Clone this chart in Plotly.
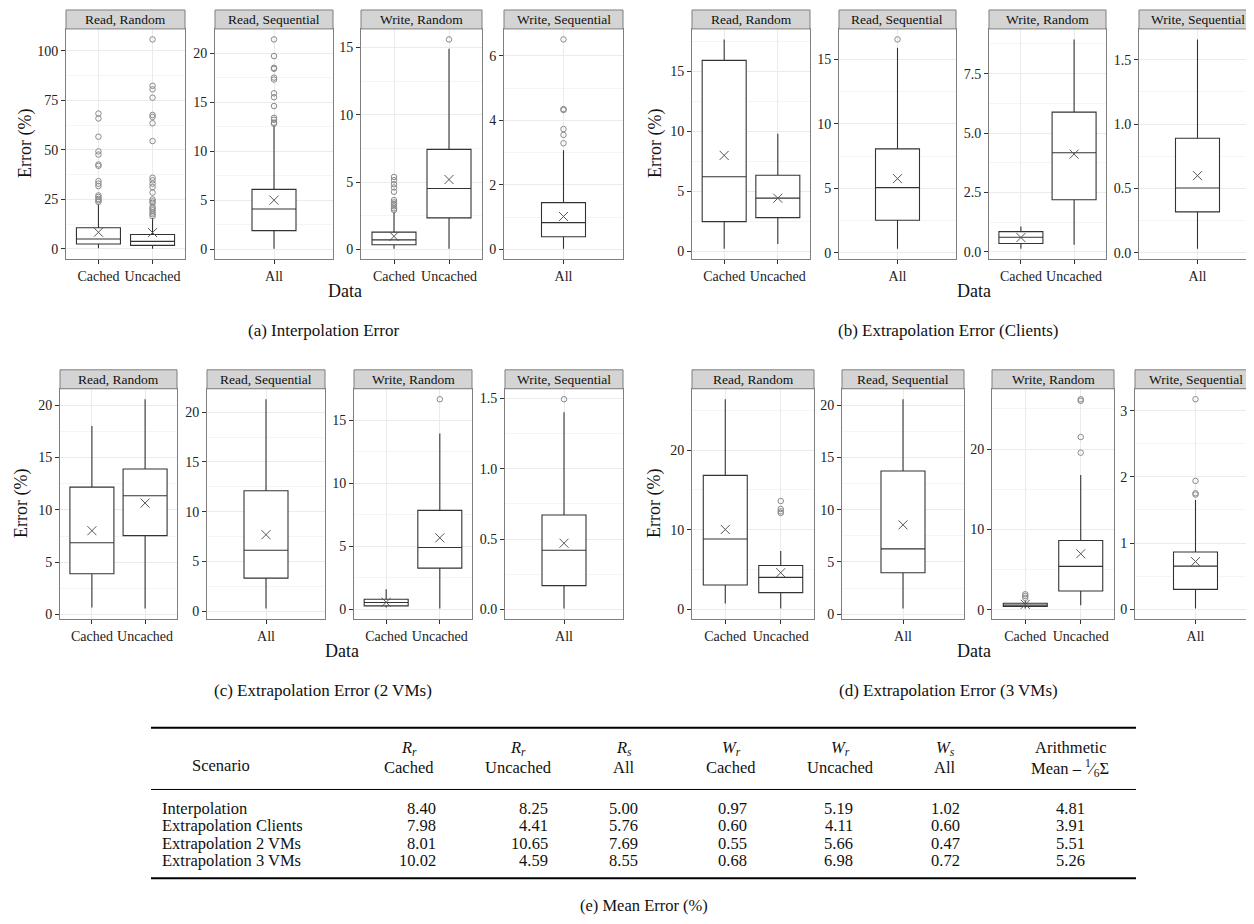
import plotly.graph_objects as go

W, H = 1254, 924
FONT = "Liberation Serif"

# ---------------- data ----------------
FACETS = ["Read, Random", "Read, Sequential", "Write, Random", "Write, Sequential"]
FACET_CATS = [["Cached", "Uncached"], ["All"], ["Cached", "Uncached"], ["All"]]

SCENARIOS = ["Interpolation", "Extrapolation Clients", "Extrapolation 2 VMs", "Extrapolation 3 VMs"]
RR_CACHED = [8.40, 7.98, 8.01, 10.02]
RR_UNCACHED = [8.25, 4.41, 10.65, 4.59]
RS_ALL = [5.00, 5.76, 7.69, 8.55]
WR_CACHED = [0.97, 0.60, 0.55, 0.68]
WR_UNCACHED = [5.19, 4.11, 5.66, 6.98]
WS_ALL = [1.02, 0.60, 0.47, 0.72]
ARITH_MEAN = [4.81, 3.91, 5.51, 5.26]

# (lower whisker, q1, median, q3, upper whisker) per box, facet order
INTERP_STATS = [
    [(0.3, 2.5, 5.0, 10.7, 22.5), (0.1, 1.8, 3.8, 7.3, 15.6)],
    [(0.05, 1.9, 4.1, 6.1, 12.6)],
    [(0.05, 0.34, 0.71, 1.28, 2.8), (0.05, 2.34, 4.52, 7.43, 14.9)],
    [(0.02, 0.39, 0.83, 1.45, 3.07)],
]
INTERP_OUT = [
    [[68.3, 65.8, 56.6, 49.2, 47.6, 42.6, 41.9, 34.2, 32.9, 31.7, 27.0, 26.2, 25.2, 24.5, 23.7],
     [105.7, 82.3, 80.5, 76.3, 67.6, 66.6, 63.4, 54.4, 35.9, 34.6, 32.9, 31.2, 28.4, 25.0,
      24.0, 23.2, 21.2, 20.4, 19.5, 18.4, 17.5, 16.5]],
    [[21.4, 19.7, 18.5, 18.4, 17.5, 17.3, 15.9, 15.5, 14.6, 13.4, 13.2, 12.9, 12.8]],
    [[5.38, 5.14, 4.84, 4.6, 4.28, 3.66, 3.49, 3.37, 3.2, 3.05, 2.93], [15.6]],
    [[6.51, 4.35, 4.32, 3.73, 3.55, 3.29]],
]
CLIENTS_STATS = [
    [(0.2, 2.46, 6.2, 15.9, 17.65), (0.6, 2.79, 4.42, 6.33, 9.78)],
    [(0.33, 2.54, 5.06, 8.07, 15.9)],
    [(0.13, 0.35, 0.61, 0.85, 1.07), (0.3, 2.19, 4.17, 5.88, 8.94)],
    [(0.033, 0.319, 0.504, 0.89, 1.657)],
]
CLIENTS_OUT = [[[], []], [[16.55]], [[], []], [[]]]
VM2_STATS = [
    [(0.67, 3.9, 6.85, 12.17, 18.0), (0.57, 7.54, 11.35, 13.9, 20.57)],
    [(0.27, 3.33, 6.13, 12.1, 21.3)],
    [(0.13, 0.26, 0.53, 0.79, 1.58), (0.05, 3.26, 4.89, 7.84, 13.95)],
    [(0.005, 0.168, 0.42, 0.671, 1.403)],
]
VM2_OUT = [[[], []], [[]], [[], [16.66]], [[1.495]]]
VM3_STATS = [
    [(0.71, 3.04, 8.83, 16.83, 26.4), (0.08, 2.08, 4.0, 5.5, 7.3)],
    [(0.54, 3.97, 6.25, 13.7, 20.57)],
    [(0.16, 0.41, 0.58, 0.82, 1.1), (0.58, 2.35, 5.4, 8.62, 16.78)],
    [(0.01, 0.30, 0.651, 0.866, 1.65)],
]
VM3_OUT = [[[], [13.6, 12.6, 12.3, 12.1]], [[]],
           [[1.94, 1.73, 1.48], [26.2, 26.0, 21.5, 19.55]],
           [[3.175, 1.94, 1.753, 1.733]]]

INTERP_DTICK = [25, 5, 5, 2]
CLIENTS_DTICK = [5, 5, 2.5, 0.5]
VM2_DTICK = [5, 5, 5, 0.5]
VM3_DTICK = [10, 5, 10, 1]

CAPTIONS = ["(a) Interpolation Error", "(b) Extrapolation Error (Clients)",
            "(c) Extrapolation Error (2 VMs)", "(d) Extrapolation Error (3 VMs)"]

# ---------------- layout geometry (pixels) ----------------
GROUPS = [
    dict(stats=INTERP_STATS, out=INTERP_OUT, dtick=INTERP_DTICK,
         panels=[(58, 177), (207, 325), (353, 474), (496, 615)], top=21, bottom=252, ylab=17, capx=315),
    dict(stats=CLIENTS_STATS, out=CLIENTS_OUT, dtick=CLIENTS_DTICK,
         panels=[(684, 802), (831, 948), (981, 1098), (1131, 1248)], top=21, bottom=252, ylab=647, capx=940),
    dict(stats=VM2_STATS, out=VM2_OUT, dtick=VM2_DTICK,
         panels=[(52, 169), (199, 317), (346, 464), (497, 615)], top=382, bottom=613, ylab=14, capx=315),
    dict(stats=VM3_STATS, out=VM3_OUT, dtick=VM3_DTICK,
         panels=[(684, 806), (834, 956), (984, 1106), (1127, 1248)], top=382, bottom=613, ylab=647, capx=940),
]
STRIP_H = 19


def px(x):
    return x / W


def py(y):
    return 1 - y / H


fig = go.Figure()
layout = dict(width=W, height=H, margin=dict(l=0, r=0, t=0, b=0),
              paper_bgcolor="white", plot_bgcolor="white", showlegend=False,
              font=dict(family=FONT, color="#222"))
shapes, annots = [], []

k = 0
for gi, g in enumerate(GROUPS):
    means = [[RR_CACHED[gi], RR_UNCACHED[gi]], [RS_ALL[gi]], [WR_CACHED[gi], WR_UNCACHED[gi]], [WS_ALL[gi]]]
    for fi in range(4):
        k += 1
        xa = "x" if k == 1 else f"x{k}"
        ya = "y" if k == 1 else f"y{k}"
        cats = FACET_CATS[fi]
        n = len(cats)
        x0, x1 = g["panels"][fi]
        span = n + 0.2
        bw = 44 * span / (x1 - x0)
        stats = g["stats"][fi]
        outs = g["out"][fi]
        for ci in range(n):
            lo, q1, med, q3, hi = stats[ci]
            fig.add_trace(go.Box(x=[ci + 1], lowerfence=[lo], q1=[q1], median=[med], q3=[q3],
                                 upperfence=[hi], width=bw, fillcolor="white",
                                 line=dict(color="#333333", width=1.1), boxpoints=False,
                                 whiskerwidth=0, xaxis=xa, yaxis=ya, hoverinfo="skip"))
            if outs[ci]:
                fig.add_trace(go.Scatter(x=[ci + 1] * len(outs[ci]), y=outs[ci], mode="markers",
                                         marker=dict(symbol="circle-open", size=5.5, color="#8a8a8a",
                                                     line=dict(width=1)),
                                         xaxis=xa, yaxis=ya, hoverinfo="skip"))
            fig.add_trace(go.Scatter(x=[ci + 1], y=[means[fi][ci]], mode="markers",
                                     marker=dict(symbol="x-thin-open", size=9, color="#555",
                                                 line=dict(width=1, color="#555")),
                                     xaxis=xa, yaxis=ya, hoverinfo="skip"))
        allv = [s[0] for s in stats] + [s[4] for s in stats] + [v for o in outs for v in o]
        vmin, vmax = min(allv), max(allv)
        pad = 0.05 * (vmax - vmin)
        dt = g["dtick"][fi]
        fmt = "d" if float(dt).is_integer() else ".1f"
        top, bottom = g["top"], g["bottom"]
        layout["xaxis" if k == 1 else f"xaxis{k}"] = dict(
            domain=[px(x0), px(x1)], anchor=ya, range=[0.4, n + 0.6],
            tickvals=list(range(1, n + 1)), ticktext=cats, ticks="outside", ticklen=4,
            tickcolor="#333", tickfont=dict(size=14, family=FONT, color="#222"),
            showgrid=True, gridcolor="#ebebeb", showline=True, mirror=True,
            linecolor="#7f7f7f", linewidth=1, zeroline=False, fixedrange=True)
        layout["yaxis" if k == 1 else f"yaxis{k}"] = dict(
            domain=[py(bottom), py(top)], anchor=xa, range=[vmin - pad, vmax + pad],
            tick0=0, dtick=dt, tickformat=fmt, ticks="outside", ticklen=4, tickcolor="#333",
            tickfont=dict(size=14, family=FONT, color="#222"),
            showgrid=True, gridcolor="#ebebeb",
            minor=dict(dtick=dt / 2, showgrid=True, gridcolor="#f5f5f5", ticks=""),
            showline=True, mirror=True, linecolor="#7f7f7f", linewidth=1, zeroline=False,
            fixedrange=True)
        # strip
        shapes.append(dict(type="rect", xref="paper", yref="paper", x0=px(x0), x1=px(x1),
                           y0=py(top), y1=py(top - STRIP_H), fillcolor="#d4d4d4",
                           line=dict(color="#7f7f7f", width=1), layer="above"))
        annots.append(dict(x=px((x0 + x1) / 2), y=py(top - STRIP_H / 2), xref="paper", yref="paper",
                           text=FACETS[fi], showarrow=False, font=dict(size=13.5, family=FONT, color="#111"),
                           xanchor="center", yanchor="middle"))
    # group labels
    left = g["panels"][0][0]
    right = g["panels"][3][1]
    top, bottom = g["top"], g["bottom"]
    annots.append(dict(x=px((left + right) / 2), y=py(bottom + 32), xref="paper", yref="paper",
                       text="Data", showarrow=False, font=dict(size=18, family=FONT, color="#111"),
                       xanchor="center", yanchor="middle"))
    annots.append(dict(x=px(g["ylab"]), y=py((top + bottom) / 2), xref="paper", yref="paper",
                       text="Error (%)", textangle=-90, showarrow=False,
                       font=dict(size=18, family=FONT, color="#111"), xanchor="center", yanchor="middle"))
    annots.append(dict(x=px(g["capx"]), y=py(bottom + 72), xref="paper", yref="paper",
                       text=CAPTIONS[gi], showarrow=False, font=dict(size=17, family=FONT, color="#111"),
                       xanchor="center", yanchor="middle"))

# ---------------- table ----------------
TFONT = dict(size=16.5, family=FONT, color="#111")
T_LEFT, T_RIGHT = 143, 1128
for yy, wdt in [(722, 2), (784, 1), (873, 2)]:
    shapes.append(dict(type="line", xref="paper", yref="paper", x0=px(T_LEFT), x1=px(T_RIGHT),
                       y0=py(yy), y1=py(yy), line=dict(color="black", width=wdt)))

HDR1 = ["<i>R<sub>r</sub></i>", "<i>R<sub>r</sub></i>", "<i>R<sub>s</sub></i>", "<i>W<sub>r</sub></i>",
        "<i>W<sub>r</sub></i>", "<i>W<sub>s</sub></i>", "Arithmetic"]
HDR2 = ["Cached", "Uncached", "All", "Cached", "Uncached", "All",
        "Mean \u2013 <sup>1</sup>\u2044<sub>6</sub>\u03a3"]
HDR_X = [401, 510, 616, 723, 832, 937, 1062]
NUM_RIGHT = [430, 542, 632, 741, 847, 954, 1079]
COLS = [RR_CACHED, RR_UNCACHED, RS_ALL, WR_CACHED, WR_UNCACHED, WS_ALL, ARITH_MEAN]
ROW_Y = [803, 820, 838, 855]

annots.append(dict(x=px(213), y=py(760), xref="paper", yref="paper", text="Scenario",
                   showarrow=False, font=TFONT, xanchor="center", yanchor="middle"))
for j in range(7):
    annots.append(dict(x=px(HDR_X[j]), y=py(742), xref="paper", yref="paper", text=HDR1[j],
                       showarrow=False, font=TFONT, xanchor="center", yanchor="middle"))
    annots.append(dict(x=px(HDR_X[j]), y=py(762), xref="paper", yref="paper", text=HDR2[j],
                       showarrow=False, font=TFONT, xanchor="center", yanchor="middle"))
for i, sc in enumerate(SCENARIOS):
    annots.append(dict(x=px(152), y=py(ROW_Y[i]), xref="paper", yref="paper", text=sc,
                       showarrow=False, font=TFONT, xanchor="left", yanchor="middle"))
    for j in range(7):
        annots.append(dict(x=px(NUM_RIGHT[j]), y=py(ROW_Y[i]), xref="paper", yref="paper",
                           text=f"{COLS[j][i]:.2f}", showarrow=False, font=TFONT,
                           xanchor="right", yanchor="middle"))
annots.append(dict(x=px(636), y=py(900), xref="paper", yref="paper", text="(e) Mean Error (%)",
                   showarrow=False, font=TFONT, xanchor="center", yanchor="middle"))

layout["shapes"] = shapes
layout["annotations"] = annots
fig.update_layout(**layout)
fig.write_html("out.html")
